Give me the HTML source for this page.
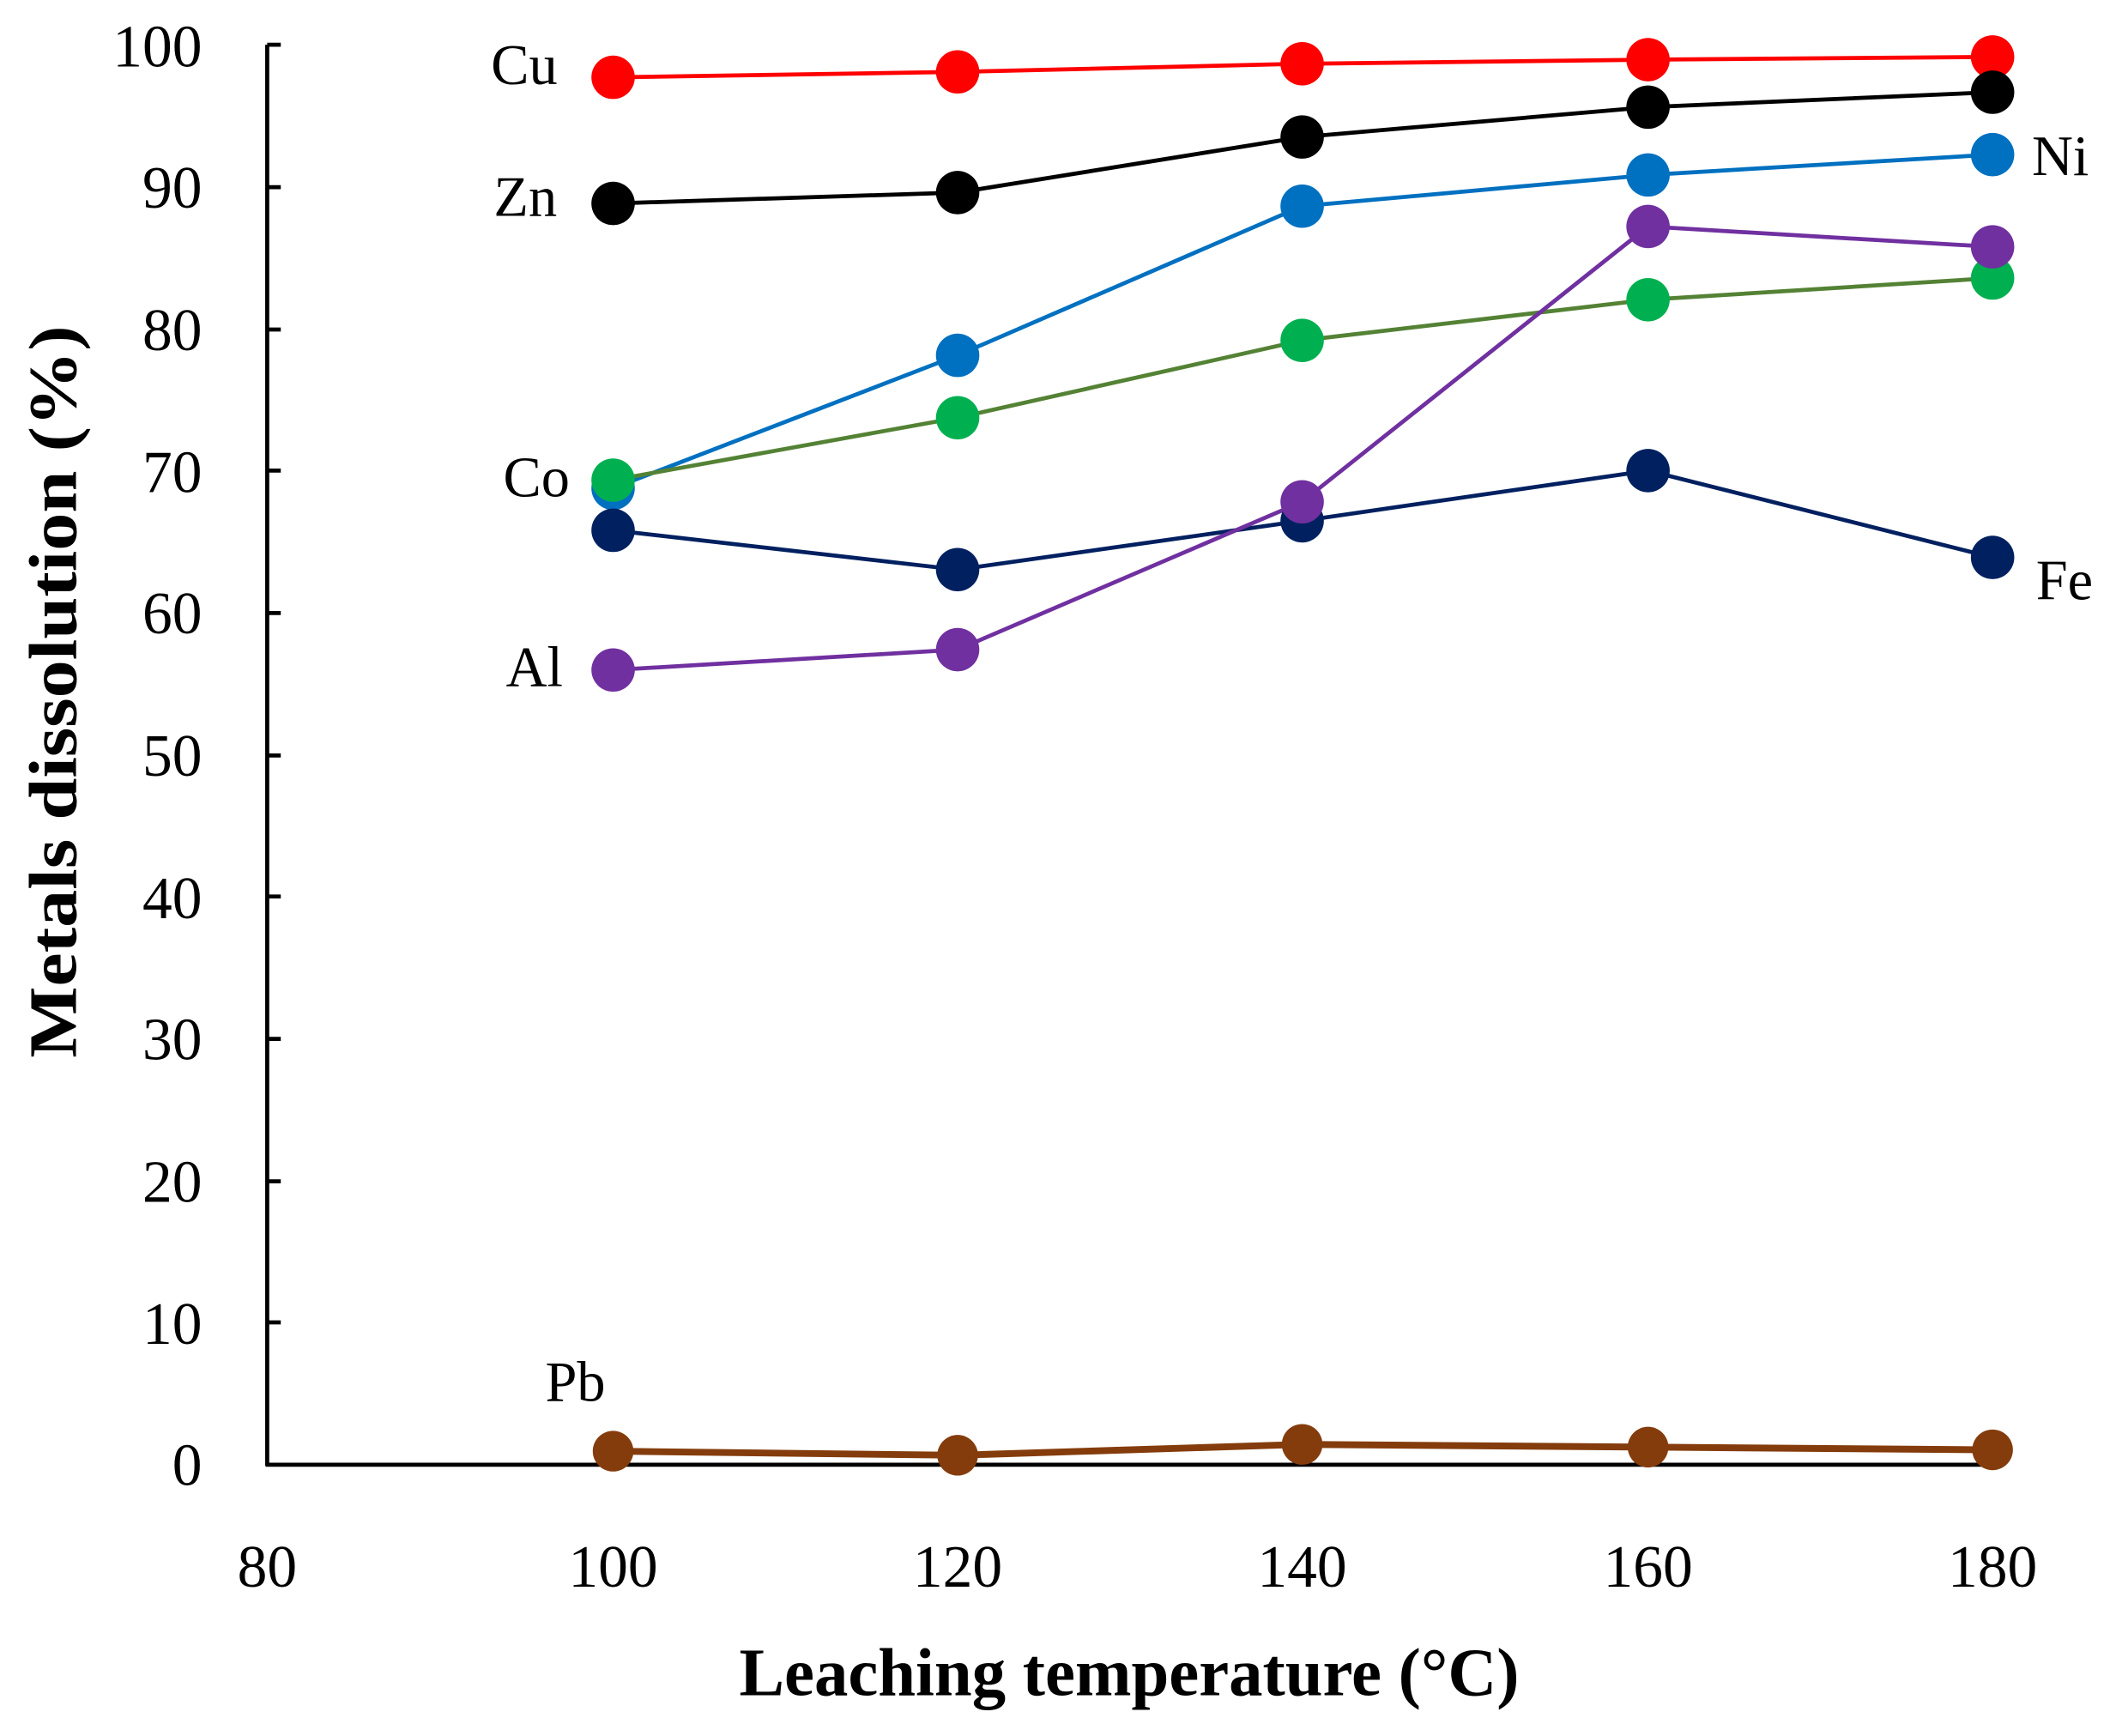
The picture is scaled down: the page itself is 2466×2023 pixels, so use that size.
<!DOCTYPE html>
<html><head><meta charset="utf-8"><style>html,body{margin:0;padding:0;background:#fff}svg{display:block}</style></head>
<body>
<svg width="2466" height="2023" viewBox="0 0 1560 1280" preserveAspectRatio="none" xmlns="http://www.w3.org/2000/svg" font-family="Liberation Serif, serif">
<rect width="1560" height="1280" fill="#fff"/>
<g stroke="#000" stroke-width="3" fill="none">
<line x1="197" y1="33" x2="197" y2="1081"/>
<line x1="196" y1="1080" x2="1470" y2="1080"/>
<line x1="197" y1="33" x2="207" y2="33"/><line x1="197" y1="138" x2="207" y2="138"/><line x1="197" y1="243" x2="207" y2="243"/><line x1="197" y1="347" x2="207" y2="347"/><line x1="197" y1="452" x2="207" y2="452"/><line x1="197" y1="557" x2="207" y2="557"/><line x1="197" y1="661" x2="207" y2="661"/><line x1="197" y1="766" x2="207" y2="766"/><line x1="197" y1="871" x2="207" y2="871"/><line x1="197" y1="975" x2="207" y2="975"/>
</g>
<g font-size="44" text-anchor="end" fill="#000">
<text x="149" y="49">100</text><text x="149" y="153">90</text><text x="149" y="258">80</text><text x="149" y="363">70</text><text x="149" y="467">60</text><text x="149" y="572">50</text><text x="149" y="677">40</text><text x="149" y="781">30</text><text x="149" y="886">20</text><text x="149" y="991">10</text><text x="149" y="1095">0</text>
</g>
<g font-size="44" text-anchor="middle" fill="#000">
<text x="197" y="1170">80</text><text x="452" y="1170">100</text><text x="706" y="1170">120</text><text x="960" y="1170">140</text><text x="1215" y="1170">160</text><text x="1469" y="1170">180</text>
</g>
<text x="545" y="1250" font-size="50" font-weight="bold" textLength="575" lengthAdjust="spacingAndGlyphs">Leaching temperature (°C)</text>
<text transform="translate(56,780) rotate(-90)" font-size="50" font-weight="bold" textLength="540" lengthAdjust="spacingAndGlyphs">Metals dissolution (%)</text>
<g stroke-width="3" fill="none">
<polyline stroke="#ff0000" points="452,57 706,53 960,47 1215,44 1469,42"/>
<polyline stroke="#000" points="452,150 706,142 960,101 1215,79 1469,68"/>
<polyline stroke="#0070c0" points="452,360 706,262 960,152 1215,129 1469,114"/>
<polyline stroke="#548235" points="452,354 706,308 960,251 1215,221 1469,205"/>
<polyline stroke="#002060" points="452,391 706,420 960,384 1215,347 1469,411"/>
<polyline stroke="#7030a0" points="452,494 706,479 960,370 1215,167 1469,182"/>
<polyline stroke="#843c0c" stroke-width="5" points="452,1070 706,1073 960,1065 1215,1067 1469,1069"/>
</g>
<g fill="#ff0000"><circle cx="452" cy="57" r="16"/><circle cx="706" cy="53" r="16"/><circle cx="960" cy="47" r="16"/><circle cx="1215" cy="44" r="16"/><circle cx="1469" cy="42" r="16"/></g>
<g fill="#000"><circle cx="452" cy="150" r="16"/><circle cx="706" cy="142" r="16"/><circle cx="960" cy="101" r="16"/><circle cx="1215" cy="79" r="16"/><circle cx="1469" cy="68" r="16"/></g>
<g fill="#0070c0"><circle cx="452" cy="360" r="16"/><circle cx="706" cy="262" r="16"/><circle cx="960" cy="152" r="16"/><circle cx="1215" cy="129" r="16"/><circle cx="1469" cy="114" r="16"/></g>
<g fill="#00b050"><circle cx="452" cy="354" r="16"/><circle cx="706" cy="308" r="16"/><circle cx="960" cy="251" r="16"/><circle cx="1215" cy="221" r="16"/><circle cx="1469" cy="205" r="16"/></g>
<g fill="#002060"><circle cx="452" cy="391" r="16"/><circle cx="706" cy="420" r="16"/><circle cx="960" cy="384" r="16"/><circle cx="1215" cy="347" r="16"/><circle cx="1469" cy="411" r="16"/></g>
<g fill="#7030a0"><circle cx="452" cy="494" r="16"/><circle cx="706" cy="479" r="16"/><circle cx="960" cy="370" r="16"/><circle cx="1215" cy="167" r="16"/><circle cx="1469" cy="182" r="16"/></g>
<g fill="#843c0c"><circle cx="452" cy="1070" r="15"/><circle cx="706" cy="1073" r="15"/><circle cx="960" cy="1065" r="15"/><circle cx="1215" cy="1067" r="15"/><circle cx="1469" cy="1069" r="15"/></g>
<g font-size="42" fill="#000">
<text x="362" y="62">Cu</text><text x="364" y="159">Zn</text><text x="371" y="366">Co</text><text x="373" y="506">Al</text><text x="402" y="1033">Pb</text><text x="1498" y="129">Ni</text><text x="1501" y="442">Fe</text>
</g>
</svg>
</body></html>
